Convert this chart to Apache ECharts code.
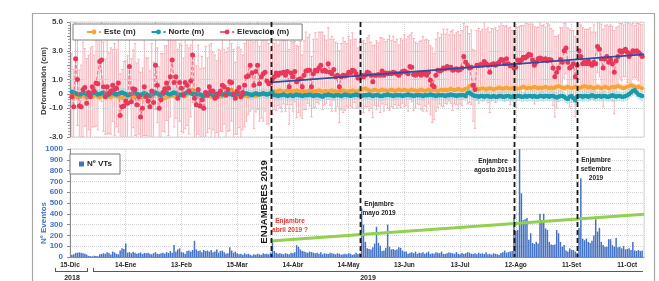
<!DOCTYPE html>
<html><head><meta charset="utf-8">
<script src="https://cdn.jsdelivr.net/npm/echarts@6/dist/echarts.min.js"></script>
<style>html,body{margin:0;padding:0;background:#fff}#c{width:659px;height:281px}</style>
</head><body><div id="c"></div>
<script>
// Day index 0 = 15-Dic-2018; data start at day 1
const startDate = [2018, 11, 15];
const monthNames = ['Ene','Feb','Mar','Abr','May','Jun','Jul','Ago','Set','Oct','Nov','Dic'];
const seriesNames = ['Este (m)', 'Norte (m)', 'Elevación (m)', 'Nº VTs'];

const barVTs = [
20,25,38,40,42,40,35,30,22,10, 8,5,12,10,8,25,28,35,30,45, 38,22,50,42,30,25,60,80,75,125,
40,45,35,48,40,30,35,42,28,38, 35,40,30,25,35,45,30,28,35,40, 30,45,38,55,40,110,50,70,80,45,
42,30,55,60,50,65,150,70,55,60, 45,65,55,60,50,65,45,50,70,40, 55,60,45,30,35,90,60,40,50,35,
25,30,20,35,25,30,20,15,25,20, 30,25,20,35,28,30,25,40,135,55, 40,30,35,30,25,35,30,25,40,35,
45,110,95,70,55,50,45,40,50,45, 40,35,40,30,45,25,35,30,28,40, 35,30,25,35,30,20,25,30,25,35,
30,20,25,40,28,35,450,300,140,80, 75,70,90,125,280,130,105,55,60,85, 300,95,70,75,65,70,90,85,60,50,
50,30,40,45,35,50,30,40,35,45, 30,40,50,28,35,30,45,40,35,50, 30,28,35,42,40,35,30,45,30,25,
38,30,35,45,40,30,28,35,25,40, 30,35,28,45,25,30,22,35,30,25, 20,38,45,60,40,45,50,55,360,240,
250,1000,590,340,350,360,160,220,130,120, 140,125,400,340,400,265,250,140,115,110,
115,250,220,140,95,110,60,50,80,65, 65,50,40,270,730,170,155,170,140,130,
150,200,350,235,270,140,110,95,95,165, 165,110,95,175,90,95,80,100,70,75, 80,65,140,60,55,65,55,60];

const elevacion = [
-0.2,-0.9,2.45,1.0,-0.85,-0.9,0.3,0.45,-0.65,0.1, -0.2,0.5,0.2,0.75,0.7,2.25,2.35,0.5,-0.2,0.5,
0.05,0.2,0.6,0.3,0.4,0.75,-1.5,-0.9,-0.85,-0.5, -0.65,1.9,-0.55,0.35,0.3,-0.75,-0.2,-1.6,-1.0,0.5,
-0.2,-0.5,-0.9,0.2,-0.6,2.0,0.6,-1.0,-0.4,0.1, 0.35,0.75,0.4,1.2,2.35,0.8,1.2,-0.3,0.8,0.4,
-0.1,0.8,0.6,0.2,0.9,2.7,-0.3,-0.75,0.3,-0.85, -0.4,-1.0,0.1,-0.1,0.5,0.2,0.2,-0.3,-0.2,0.0,
0.2,0.6,0.5,-0.1,0.3,0.85,0.8,0.0,-0.3,0.2, 0.45,-0.2,0.1,0.6,1.2,1.25,2.0,1.45,0.6,1.55,
2.0,0.7,1.2,1.4,1.5,0.9,0.7,0.75,1.05,1.2, 1.45,1.3,1.45,1.45,1.5,1.3,1.55,0.5,1.45,1.2,
1.55,0.85,1.0,1.05,0.5,1.3,1.6,1.65,1.65,0.5, 1.4,1.65,1.6,1.8,2.0,1.6,1.65,1.55,2.1,1.5,
1.4,1.7,1.2,1.3,0.5,1.2,1.3,1.25,1.3,1.5, 1.45,1.65,1.6,1.4,1.1,1.1,1.3,1.2,1.3,1.5,
1.45,1.3,0.85,1.3,1.3,1.35,1.3,1.6,1.3,1.45, 1.4,1.45,1.4,1.5,1.45,1.4,1.3,1.45,1.55,1.6,
1.5,1.4,1.9,1.85,1.35,1.3,1.4,1.45,1.3,1.4, 1.45,1.3,1.5,0.95,0.6,0.5,1.3,1.65,1.6,1.65,
1.8,1.75,1.9,1.8,1.85,1.65,1.7,1.75,1.65,1.7, 1.8,2.6,2.2,2.0,1.8,1.85,0.6,0.3,2.0,1.95,
2.05,2.0,2.25,2.1,2.0,1.5,2.05,2.1,2.0,2.1, 2.2,2.4,2.35,2.1,2.45,2.1,1.95,2.0,1.8,1.85,
2.35,2.2,2.35,2.55,2.5,2.6,2.75,2.7,2.35,2.0, 2.2,2.45,2.5,2.45,2.4,2.45,2.3,2.4,2.35,1.8,
1.2,1.5,1.8,2.4,2.2,3.0,3.2,2.2,1.8,1.9, 2.1,1.2,2.0,3.0,2.6,2.1,2.2,2.1,2.3,2.1,
2.0,2.2,2.1,3.3,3.1,2.45,1.8,2.45,2.6,2.2, 2.4,2.1,1.5,2.3,2.6,3.0,2.9,3.0,3.1,2.9,
2.6,2.8,3.0,2.95,3.0,2.9,2.75,2.6];

const elevErr = [
3.0,2.6,2.8,3.2,2.5,2.9,3.3,2.7,3.1,2.6, 3.4,2.8,2.5,3.0,3.2,2.4,2.9,3.1,2.6,3.3,
2.8,3.0,2.5,3.2,2.7,3.4,2.9,2.6,3.1,2.8, 3.3,2.5,3.0,2.7,3.2,2.9,2.6,3.1,2.8,3.4,
2.7,3.0,2.5,3.3,2.8,3.1,2.6,2.9,3.2,2.7, 3.0,2.6,3.3,2.8,2.5,3.1,2.9,3.4,2.7,3.0,
2.6,3.2,2.8,3.0,2.5,3.3,2.9,2.7,3.1,2.6, 3.0,2.8,3.2,2.6,2.9,3.3,2.7,3.0,2.5,3.1,
2.8,3.2,2.6,3.0,2.9,3.4,2.7,3.1,2.5,3.0, 2.8,3.3,2.6,2.9,3.1,2.7,3.2,2.5,3.0,2.8,
3.1,2.6,2.9,3.3,2.7,3.0,2.8,2.2,2.5,2.3, 2.6,2.1,2.4,2.7,2.2,2.5,2.3,2.6,2.2,2.4,
2.1,2.5,2.3,2.6,2.2,2.4,2.7,2.3,2.5,2.1, 2.4,2.6,2.2,2.5,2.3,2.7,2.4,2.2,2.5,2.3,
2.6,2.1,2.4,2.2,2.5,2.3,2.6,2.4,2.2,2.5, 2.3,2.6,2.2,2.4,2.1,2.5,2.3,2.5,2.2,2.4,
2.6,2.3,2.5,2.1,2.4,2.2,2.6,2.3,2.5,2.2, 2.4,2.6,2.3,2.5,2.2,2.4,2.1,2.4,2.2,2.5,
2.3,2.6,2.2,2.4,2.5,2.3,2.1,2.2,2.4,2.6, 2.3,2.5,2.2,2.4,2.6,2.3,2.5,2.6,2.3,2.5,
2.7,2.4,2.6,2.3,2.5,2.8,2.4,2.5,2.7,2.4, 2.6,2.3,2.5,2.7,2.4,2.6,2.5,2.7,2.4,2.6,
2.3,2.5,2.7,2.4,2.6,2.8,2.5,2.4,2.6,2.3, 2.5,2.7,2.4,2.6,2.3,2.5,2.7,2.4,2.6,2.8,
2.3,2.5,2.4,2.2,2.5,2.3,2.1,2.3,2.5,2.7, 2.4,2.2,2.5,2.3,2.4,2.2,2.6,2.4,2.2,2.6,
2.8,2.5,2.3,2.2,2.4,1.9,1.8,2.4,2.7,2.5, 2.3,2.8,2.6,2.0,2.2,2.5,2.3,2.4,2.2,2.5,
2.3,2.6,2.2,1.8,1.9,2.4,2.7,2.3,2.2,2.5, 2.4,2.6,2.9,2.3,2.1,1.9,2.0,1.8,1.9,2.1,
2.3,2.0,1.9,1.8,1.9,2.0,2.1,2.2];

const norte = [
0.15,0.1,0.05,0.0,-0.05,0.0,0.1,0.05,-0.05,-0.1, 0.0,0.05,0.1,0.05,-0.05,0.0,0.05,0.1,0.0,-0.1,
-0.05,0.05,0.1,0.0,-0.05,0.0,0.05,0.1,0.05,0.0, -0.1,-0.05,0.0,0.05,0.1,0.0,-0.05,-0.1,0.0,0.05,
0.0,-0.1,-0.15,-0.05,0.0,0.1,0.05,-0.05,-0.1,0.0, 0.05,0.1,0.0,-0.05,0.05,0.1,0.05,0.0,-0.1,-0.05,
0.0,0.05,0.1,0.15,0.05,0.0,-0.05,0.0,0.05,-0.05, -0.1,-0.15,-0.05,0.0,0.05,0.0,-0.1,-0.05,0.0,0.05,
0.0,-0.05,0.0,0.05,0.1,0.0,-0.05,-0.1,-0.05,0.0, 0.05,0.0,-0.05,0.0,0.05,0.0,-0.05,-0.1,0.0,0.05,
0.0,-0.05,0.0,0.05,0.0,-0.05,0.0,0.05,0.1,-0.1, -0.1,-0.15,-0.1,-0.1,-0.05,-0.1,-0.15,-0.1,-0.1,-0.15,
-0.1,-0.05,-0.1,-0.1,-0.15,-0.1,-0.1,-0.1,-0.05,-0.1, -0.15,-0.1,-0.1,-0.1,-0.15,-0.2,-0.1,-0.1,-0.05,-0.1,
-0.1,-0.15,-0.1,-0.1,-0.1,-0.15,-0.1,-0.05,-0.1,-0.1, -0.15,-0.1,-0.1,-0.05,-0.1,-0.1,-0.15,-0.1,-0.1,-0.1,
-0.05,-0.1,-0.15,-0.1,-0.1,-0.1,-0.15,-0.15,-0.1,-0.1, -0.05,-0.1,-0.1,-0.15,-0.1,-0.1,-0.1,-0.1,-0.15,-0.1,
-0.1,-0.05,-0.1,-0.1,-0.15,-0.1,-0.1,-0.1,-0.1,-0.15, -0.1,-0.1,-0.1,-0.05,-0.1,-0.1,-0.15,-0.1,-0.1,-0.1,
-0.1,-0.15,-0.1,-0.1,-0.05,-0.1,-0.1,-0.15,-0.1,-0.1, -0.1,-0.1,-0.15,0.05,0.1,0.0,-0.1,-0.15,-0.15,-0.2,
-0.15,-0.15,-0.2,-0.15,-0.15,-0.2,-0.2,-0.15,-0.2,-0.2, -0.15,-0.15,-0.2,-0.2,-0.15,-0.15,-0.2,-0.2,-0.15,-0.2,
-0.15,-0.15,-0.2,-0.2,-0.15,-0.2,-0.15,-0.15,-0.2,-0.15, -0.2,-0.2,-0.15,-0.15,-0.2,-0.15,-0.15,-0.2,-0.15,-0.15,
-0.2,-0.25,-0.2,-0.15,-0.15,-0.2,-0.3,-0.35,-0.2,-0.15, -0.3,-0.45,-0.2,-0.15,-0.15,-0.2,-0.15,-0.15,-0.2,-0.15,
-0.1,-0.15,-0.2,-0.15,-0.15,-0.2,-0.15,-0.15,-0.2,-0.2, -0.15,-0.1,-0.15,-0.2,-0.15,-0.15,-0.2,-0.2,-0.15,-0.1,
0.0,0.1,0.2,0.25,0.1,-0.05,-0.1,-0.15];

const este = [
-0.1,-0.2,-0.15,-0.25,-0.2,-0.1,-0.15,-0.2,-0.25,-0.15, -0.1,-0.2,-0.15,-0.1,-0.2,-0.25,-0.15,-0.1,-0.2,-0.15,
-0.2,-0.25,-0.15,-0.1,-0.15,-0.2,-0.25,-0.3,-0.2,-0.15, -0.1,-0.15,-0.2,-0.25,-0.2,-0.15,-0.1,-0.2,-0.25,-0.15,
-0.1,-0.15,-0.2,-0.1,0.0,0.05,0.0,-0.1,-0.2,-0.25, -0.3,-0.25,-0.2,-0.15,-0.1,-0.15,-0.2,-0.15,-0.1,-0.05,
-0.1,-0.15,-0.05,0.1,0.25,0.3,0.2,0.1,-0.05,-0.1, -0.15,-0.2,-0.15,-0.1,-0.15,-0.2,-0.1,-0.05,-0.1,-0.15,
-0.2,-0.15,-0.1,0.0,0.1,0.2,0.3,0.15,0.0,-0.1, -0.15,-0.2,-0.15,-0.1,-0.15,-0.2,-0.1,-0.05,-0.1,-0.15,
-0.1,-0.05,0.0,0.05,0.0,-0.05,0.0,0.1,0.15,0.2, 0.15,0.2,0.25,0.2,0.15,0.2,0.25,0.2,0.15,0.2,
0.2,0.25,0.2,0.15,0.2,0.2,0.15,0.2,0.25,0.2, 0.15,0.2,0.2,0.25,0.2,0.15,0.2,0.2,0.15,0.2,
0.25,0.2,0.2,0.15,0.2,0.2,0.25,0.2,0.15,0.2, 0.2,0.25,0.2,0.15,0.2,0.25,0.3,0.35,0.4,0.3,
0.25,0.2,0.25,0.3,0.25,0.2,0.25,0.3,0.25,0.25, 0.2,0.25,0.3,0.25,0.2,0.25,0.3,0.25,0.25,0.3,
0.25,0.2,0.25,0.3,0.25,0.25,0.2,0.25,0.3,0.25, 0.2,0.25,0.3,0.25,0.25,0.3,0.25,0.2,0.25,0.3,
0.25,0.3,0.25,0.3,0.35,0.3,0.25,0.3,0.35,0.3, 0.25,0.3,0.35,0.4,0.55,0.6,0.5,0.45,0.35,0.3,
0.35,0.4,0.35,0.3,0.35,0.4,0.35,0.3,0.35,0.4, 0.45,0.4,0.35,0.4,0.45,0.4,0.35,0.4,0.45,0.4,
0.35,0.4,0.45,0.5,0.45,0.4,0.45,0.4,0.45,0.5, 0.45,0.4,0.45,0.4,0.45,0.5,0.45,0.4,0.45,0.4,
0.45,0.5,0.55,0.5,0.45,0.4,0.45,0.5,0.45,0.4, 0.45,0.5,0.45,0.4,0.45,0.5,0.55,0.5,0.45,0.5,
0.45,0.4,0.45,0.5,0.45,0.4,0.45,0.5,0.45,0.4, 0.45,0.5,0.45,0.5,0.55,0.5,0.45,0.4,0.45,0.5,
0.55,0.6,0.55,0.5,0.45,0.5,0.45,0.4];

const esteErr = 0.2;
const norteErr = 0.3;

const elevTrend = [[108, 0.8], [309, 2.75]];
const vtTrend = [[108, 148], [309, 395]];
const swarmDays = [108, 156, 239, 273];

const yTopLabels = {'5': '5.0', '3': '3.0', '1': '1.0', '0': '0', '-1': '-1.0', '-3': '-3.0'};
const yTopGrid = [-3, -1, 1, 3, 5];

const FONT = 'Liberation Sans';

function dayLabel(d) {
  if (d % 30 !== 0) return '';
  const dt = new Date(startDate[0], startDate[1], startDate[2] + d);
  return dt.getDate() + '-' + monthNames[dt.getMonth()];
}
const pts = arr => arr.map((v, i) => [i + 1, v]);
const errPts = (arr, err) => arr.map((v, i) => {
  const e = Array.isArray(err) ? err[i] : err;
  return [i + 1, v - e, v + e];
});
function errRender(color, cap) {
  return function (params, api) {
    const x = api.value(0), lo = api.value(1), hi = api.value(2);
    const p1 = api.coord([x, hi]), p2 = api.coord([x, lo]);
    const st = {stroke: color, lineWidth: 0.9};
    return {type: 'group', children: [
      {type: 'line', shape: {x1: p1[0], y1: p1[1], x2: p2[0], y2: p2[1]}, style: st},
      {type: 'line', shape: {x1: p1[0] - cap, y1: p1[1], x2: p1[0] + cap, y2: p1[1]}, style: st},
      {type: 'line', shape: {x1: p2[0] - cap, y1: p2[1], x2: p2[0] + cap, y2: p2[1]}, style: st}
    ]};
  };
}

const chart = echarts.init(document.getElementById('c'), null, {renderer: 'canvas'});
const gridLine = {show: true, lineStyle: {color: '#d4d4d4', type: 'dotted', width: 1}};
const option = {
  animation: false,
  textStyle: {fontFamily: FONT},
  grid: [
    {left: 70, top: 22, width: 574, height: 115, show: true, borderColor: '#d9d9d9', borderWidth: 1},
    {left: 70, top: 149, width: 574, height: 108, show: true, borderColor: '#d9d9d9', borderWidth: 1}
  ],
  legend: [
    {data: seriesNames.slice(0, 3), left: 73, top: 24, padding: [4, 13, 4, 13], itemGap: 15,
     itemWidth: 14, itemHeight: 6, borderColor: '#7f7f7f', borderWidth: 1, backgroundColor: '#fff',
     textStyle: {fontFamily: FONT, fontWeight: 'bold', fontSize: 8, color: '#262626', padding: [0, 0, 0, -2]}},
    {data: [seriesNames[3]], left: 70, top: 154, padding: [6, 8, 6, 9], itemWidth: 5, itemHeight: 5,
     icon: 'rect', borderColor: '#7f7f7f', borderWidth: 1, backgroundColor: '#fff',
     textStyle: {fontFamily: FONT, fontWeight: 'bold', fontSize: 8, color: '#262626', padding: [0, 0, 0, -2]}}
  ],
  xAxis: [
    {type: 'value', gridIndex: 0, min: 0, max: 309, interval: 30,
     axisLine: {show: false}, axisTick: {show: false}, axisLabel: {show: false}, splitLine: gridLine},
    {type: 'value', gridIndex: 1, min: 0, max: 309, interval: 30,
     axisLine: {show: true, lineStyle: {color: '#8c8c8c'}}, axisTick: {show: false},
     axisLabel: {formatter: dayLabel, fontFamily: FONT, fontWeight: 'bold', fontSize: 6.5, color: '#262626', margin: 5, showMaxLabel: false},
     splitLine: gridLine}
  ],
  yAxis: [
    {type: 'value', gridIndex: 0, min: -3, max: 5, interval: 1,
     axisLine: {show: true, lineStyle: {color: '#8c8c8c'}},
     axisTick: {show: true, length: 3, lineStyle: {color: '#8c8c8c'}},
     minorTick: {show: true, splitNumber: 5, length: 2, lineStyle: {color: '#a6a6a6'}},
     axisLabel: {formatter: v => yTopLabels[String(v)] || '', fontFamily: FONT, fontWeight: 'bold', fontSize: 8, color: '#404040', margin: 7},
     splitLine: {show: false}},
    {type: 'value', gridIndex: 1, min: 0, max: 1000, interval: 100,
     axisLine: {show: true, lineStyle: {color: '#8c8c8c'}},
     axisTick: {show: true, length: 3, lineStyle: {color: '#8c8c8c'}},
     axisLabel: {formatter: v => String(v), fontFamily: FONT, fontWeight: 'bold', fontSize: 8, color: '#4472c4', margin: 7},
     splitLine: gridLine}
  ],
  series: [
    {name: 'errElev', type: 'custom', xAxisIndex: 0, yAxisIndex: 0, clip: true, z: 1, silent: true,
     renderItem: errRender('#f6a9b1', 1.2), encode: {x: 0, y: [1, 2]}, data: errPts(elevacion, elevErr),
     markLine: {silent: true, symbol: 'none', label: {show: false},
       lineStyle: {color: '#cfcfcf', type: 'dotted', width: 1},
       data: yTopGrid.map(v => ({yAxis: v}))}},
    {name: 'errEste', type: 'custom', xAxisIndex: 0, yAxisIndex: 0, clip: true, z: 2, silent: true,
     renderItem: errRender('#fbd3a2', 0.8), encode: {x: 0, y: [1, 2]}, data: errPts(este, esteErr)},
    {name: 'errNorte', type: 'custom', xAxisIndex: 0, yAxisIndex: 0, clip: true, z: 2, silent: true,
     renderItem: errRender('#a7d7df', 0.8), encode: {x: 0, y: [1, 2]}, data: errPts(norte, norteErr)},
    {name: seriesNames[0], type: 'line', xAxisIndex: 0, yAxisIndex: 0, z: 3, data: pts(este),
     symbol: 'circle', symbolSize: 4, showAllSymbol: true,
     itemStyle: {color: '#f6a23e'}, lineStyle: {color: '#f6a23e', width: 0.8, type: 'dashed'}},
    {name: seriesNames[1], type: 'line', xAxisIndex: 0, yAxisIndex: 0, z: 4, data: pts(norte),
     symbol: 'circle', symbolSize: 4.5, showAllSymbol: true,
     itemStyle: {color: '#1b9aaa'}, lineStyle: {color: '#1b9aaa', width: 0.8, type: 'dashed'}},
    {name: seriesNames[2], type: 'line', xAxisIndex: 0, yAxisIndex: 0, z: 5, data: pts(elevacion),
     symbol: 'circle', symbolSize: 5, showAllSymbol: true,
     itemStyle: {color: '#e8385a'}, lineStyle: {color: '#ef6178', width: 0.9, type: 'dashed'}},
    {name: 'trendElev', type: 'line', xAxisIndex: 0, yAxisIndex: 0, z: 6, data: elevTrend,
     symbol: 'none', lineStyle: {color: '#2d4ea0', width: 1.6}, silent: true},
    {name: seriesNames[3], type: 'bar', xAxisIndex: 1, yAxisIndex: 1, z: 3, data: pts(barVTs),
     barWidth: 1.5, itemStyle: {color: '#4472c4'}},
    {name: 'trendVT', type: 'line', xAxisIndex: 1, yAxisIndex: 1, z: 6, data: vtTrend,
     symbol: 'none', lineStyle: {color: '#92d050', width: 3}, silent: true}
  ]
};
chart.setOption(option);

const txt = (text, x, y, size, color, extra) => Object.assign({
  type: 'text', x: x, y: y, silent: true, z: 50,
  style: {text: text, fill: color, font: 'bold ' + size + 'px "' + FONT + '"', align: 'center', verticalAlign: 'middle', lineHeight: 9}
}, extra || {});
const ln = (x1, y1, x2, y2, color, w, dash) => ({
  type: 'line', silent: true, z: 40,
  shape: {x1: x1, y1: y1, x2: x2, y2: y2},
  style: {stroke: color, lineWidth: w, lineDash: dash || null}
});

const graphics = [];
swarmDays.forEach(d => {
  const x = Math.round(chart.convertToPixel({xAxisIndex: 1}, d)) + 0.5;
  graphics.push(ln(x, 22, x, 257, '#1a1a1a', 1.8, [5, 3]));
});
graphics.push(
  {type: 'rect', silent: true, z: 0, shape: {x: 32.5, y: 13.5, width: 622, height: 290},
   style: {fill: 'none', stroke: '#a6a6a6', lineWidth: 1.2}},
  txt('Deformación (cm)', 43.5, 81, 8, '#404040', {rotation: Math.PI / 2}),
  txt('Nº Eventos', 43.5, 223, 8, '#4472c4', {rotation: Math.PI / 2}),
  txt('ENJAMBRES 2019', 264, 202, 9.5, '#1a1a1a', {rotation: Math.PI / 2}),
  txt('Enjambre\nabril 2019 ?', 290, 225.5, 6.5, '#e8362d'),
  txt('Enjambre\nmayo 2019', 379, 208.5, 6.5, '#262626'),
  txt('Enjambre\nagosto 2019', 493, 165.5, 6.5, '#262626'),
  txt('Enjambre\nsetiembre\n2019', 596, 169, 6.5, '#262626'),
  ln(55, 271.5, 88, 271.5, '#595959', 1),
  ln(55.5, 268, 55.5, 272, '#595959', 1),
  ln(87.5, 268, 87.5, 272, '#595959', 1),
  ln(93, 271.5, 643, 271.5, '#595959', 1),
  ln(93.5, 268, 93.5, 272, '#595959', 1),
  txt('2018', 72, 278, 7, '#262626'),
  txt('2019', 368, 278, 7, '#262626')
);
chart.setOption({graphic: graphics});
</script>
</body></html>
